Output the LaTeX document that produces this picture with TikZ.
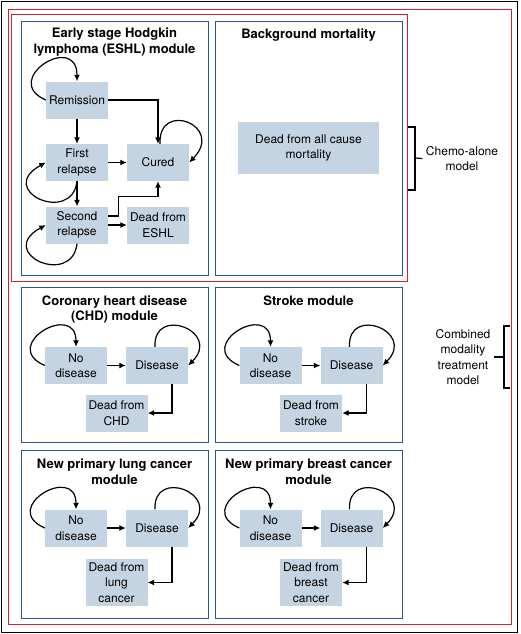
\documentclass[tikz,border=0pt]{standalone}
\usepackage{fontspec}
\setmainfont{TeX Gyre Heros}
\usetikzlibrary{arrows.meta}

\definecolor{modblue}{RGB}{38,88,138}
\definecolor{modred}{RGB}{208,32,58}
\definecolor{statefill}{RGB}{196,212,226}

\begin{document}
\begin{tikzpicture}[x=1pt, y=1pt, >={Latex[length=6.5pt,width=6pt]},
  state/.style={rectangle, fill=statefill, align=center,
    minimum width=62pt, minimum height=37pt, inner xsep=3pt, inner ysep=4pt,
    font=\fontsize{12}{15.5}\selectfont},
  module/.style={rectangle, draw=modblue, line width=1.4pt,
    anchor=north west, minimum width=187pt, inner sep=0},
  title/.style={align=center, font=\fontsize{13}{15.5}\selectfont\bfseries},
  flow/.style={->, line width=1.2pt},
  note/.style={align=center, font=\fontsize{12}{15.5}\selectfont}]

  \useasboundingbox (0,0) rectangle (520,-634);

  % frames
  \node[rectangle, draw=black, line width=1.1pt, anchor=north west,
    minimum width=516pt, minimum height=631pt, inner sep=0] (frame) at (1,-1) {};
  \node[rectangle, draw=modred, line width=1.3pt, anchor=north west,
    minimum width=503pt, minimum height=615pt, inner sep=0] (combined) at (8,-9) {};
  \node[rectangle, draw=modred, line width=1.3pt, anchor=north west,
    minimum width=396pt, minimum height=267pt, inner sep=0] (chemo) at (11,-14) {};

  % module boxes
  \node[module, minimum height=254pt] (eshl) at (21,-21) {};
  \node[module, minimum height=254pt] (bgm) at (215,-21) {};
  \node[module, minimum height=155pt] (chd) at (21,-287) {};
  \node[module, minimum height=155pt] (stroke) at (215,-287) {};
  \node[module, minimum height=168pt] (lung) at (21,-450) {};
  \node[module, minimum height=168pt] (breast) at (215,-450) {};

  % ESHL module
  \node[title] (eshltitle) at (114.5,-42) {Early stage Hodgkin\\lymphoma (ESHL) module};
  \node[state] (remission) at (77,-100) {Remission};
  \node[state] (first) at (77,-162.5) {First\\relapse};
  \node[state] (cured) at (158,-162.5) {Cured};
  \node[state] (second) at (77,-225) {Second\\relapse};
  \node[state] (deadeshl) at (158,-225) {Dead from\\ESHL};

  \draw[flow] (remission.west) .. controls +(-46,20) and +(0,50) .. (remission.north);
  \draw[flow] (remission) -- (first);
  \draw[flow] (remission.east) -| (cured.north);
  \draw[flow] ([xshift=2pt]cured.north) .. controls +(-2,44) and +(36,37) .. (cured.east);
  \draw[flow] (first) -- (cured);
  \draw[flow] (first.south) .. controls +(-5,-44) and +(-51,-28) .. (first.west);
  \draw[flow] (first) -- (second);
  \draw[flow] (second.south) .. controls +(-5,-44) and +(-51,-28) .. (second.west);
  \draw[flow] ([yshift=9pt]second.east) -- ++(10,0) |- ([yshift=-15pt]cured.south) -- (cured.south);
  \draw[flow] (second) -- (deadeshl);

  % background mortality
  \node[title] (bgmtitle) at (308.5,-35) {Background mortality};
  \node[state, minimum width=141pt, minimum height=52pt] (allcause) at (308.5,-148) {Dead from all cause\\mortality};

  % CHD module
  \node[title] (chdtitle) at (114.5,-309.5) {Coronary heart disease\\(CHD) module};
  \node[state] (chdno) at (76,-365.5) {No\\disease};
  \node[state] (chddis) at (157,-365.5) {Disease};
  \node[state] (chddead) at (116.5,-413) {Dead from\\CHD};
  \draw[flow] (chdno.west) .. controls +(-46,20) and +(0,46) .. (chdno.north);
  \draw[flow] (chdno) -- (chddis);
  \draw[flow] ([xshift=-2pt]chddis.north) .. controls +(-2,42) and +(34,34) .. (chddis.east);
  \draw[flow] ([xshift=15pt]chddis.south) |- (chddead.east);

  % stroke module
  \node[title] (stroketitle) at (308.5,-301) {Stroke module};
  \node[state] (strokeno) at (270.5,-365.5) {No\\disease};
  \node[state] (strokedis) at (351.5,-365.5) {Disease};
  \node[state] (strokedead) at (311,-413) {Dead from\\stroke};
  \draw[flow] (strokeno.west) .. controls +(-46,20) and +(0,46) .. (strokeno.north);
  \draw[flow] (strokeno) -- (strokedis);
  \draw[flow] ([xshift=-2pt]strokedis.north) .. controls +(-2,42) and +(34,34) .. (strokedis.east);
  \draw[flow] ([xshift=15pt]strokedis.south) |- (strokedead.east);

  % lung cancer module
  \node[title] (lungtitle) at (114.5,-471.5) {New primary lung cancer\\module};
  \node[state] (lungno) at (76,-528) {No\\disease};
  \node[state] (lungdis) at (157,-528) {Disease};
  \node[state] (lungdead) at (116.5,-582.5) {Dead from\\lung\\cancer};
  \draw[flow] (lungno.west) .. controls +(-46,20) and +(0,46) .. (lungno.north);
  \draw[flow] (lungno) -- (lungdis);
  \draw[flow] ([xshift=-2pt]lungdis.north) .. controls +(-2,42) and +(34,34) .. (lungdis.east);
  \draw[flow] ([xshift=15pt]lungdis.south) |- (lungdead.east);

  % breast cancer module
  \node[title] (breasttitle) at (308.5,-471.5) {New primary breast cancer\\module};
  \node[state] (breastno) at (270.5,-528) {No\\disease};
  \node[state] (breastdis) at (351.5,-528) {Disease};
  \node[state] (breastdead) at (311,-582.5) {Dead from\\breast\\cancer};
  \draw[flow] (breastno.west) .. controls +(-46,20) and +(0,46) .. (breastno.north);
  \draw[flow] (breastno) -- (breastdis);
  \draw[flow] ([xshift=-2pt]breastdis.north) .. controls +(-2,42) and +(34,34) .. (breastdis.east);
  \draw[flow] ([xshift=15pt]breastdis.south) |- (breastdead.east);

  % brackets
  \node[note] (chemolabel) at (462,-158.5) {Chemo-alone\\model};
  \draw[line width=1.2pt] (408,-127) -- (415,-127) -- (415,-190) -- (408,-190);
  \draw[line width=1.2pt] (415,-158) -- (chemolabel.west);
  \node[note] (combinedlabel) at (463,-357) {Combined\\modality\\treatment\\model};
  \draw[line width=1.2pt] (510,-326) -- (504,-326) -- (504,-388) -- (510,-388);
  \draw[line width=1.2pt] (504,-357) -- (combinedlabel.east);
\end{tikzpicture}
\end{document}
